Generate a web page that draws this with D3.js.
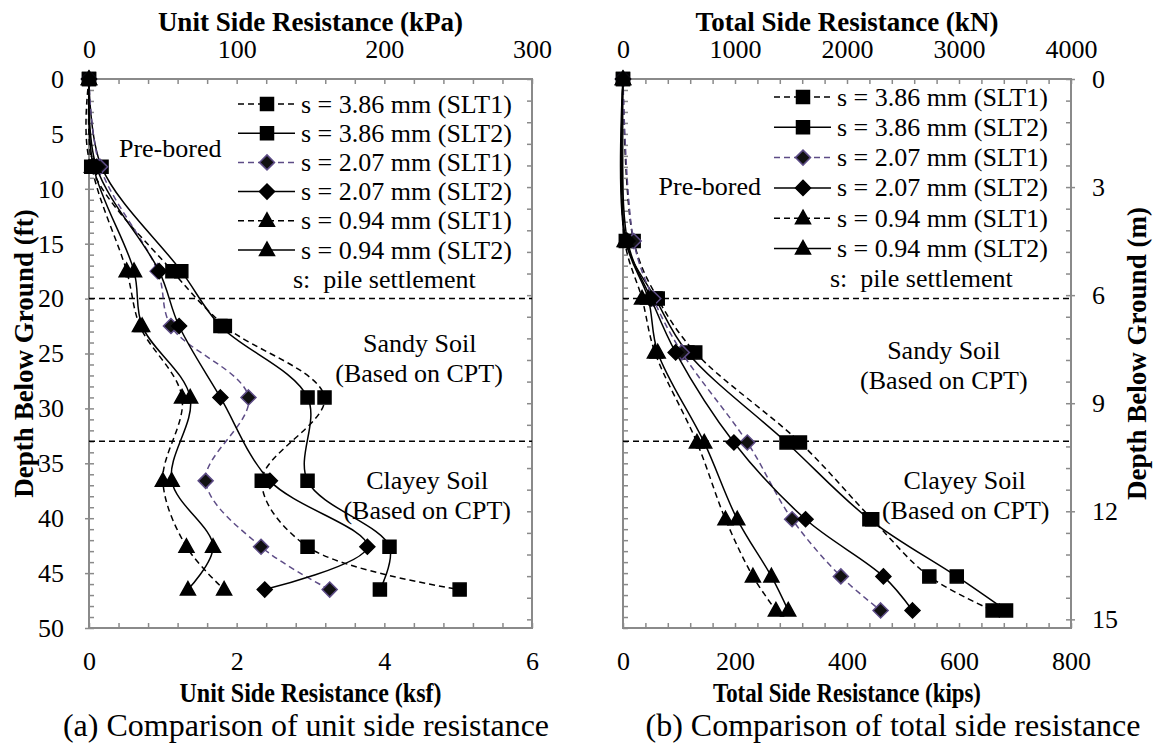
<!DOCTYPE html>
<html>
<head>
<meta charset="utf-8">
<script src="https://cdn.jsdelivr.net/npm/d3@7"></script>
<style>
  text { font-family: "Liberation Serif" !important; }
</style>
</head>
<body style="margin:0; background:#fff">
<svg id="chart" width="1154" height="746" font-family="Liberation Serif" style="display:block; font-family: 'Liberation Serif'"></svg>
<script>
// ---- Unit side resistance (ksf) at segment mid-depths (ft) ----
const unitDepths   = [0, 8, 17.5, 22.5, 29, 36.6, 42.6, 46.5];
const unit386SLT1  = [0, 0.03, 1.13, 1.84, 3.19, 2.34, 2.96, 5.02];
const unit386SLT2  = [0, 0.17, 1.25, 1.78, 2.96, 2.96, 4.07, 3.94];
const unit207SLT1  = [0, 0.15, 0.93, 1.11, 2.16, 1.58, 2.33, 3.26];
const unit207SLT2  = [0, 0.10, 0.95, 1.22, 1.78, 2.45, 3.77, 2.38];
const unit094SLT1  = [0, 0.04, 0.51, 0.69, 1.26, 1.00, 1.32, 1.83];
const unit094SLT2  = [0, 0.06, 0.61, 0.72, 1.37, 1.12, 1.68, 1.34];

// ---- Total side resistance (kips) at segment bottoms (ft) ----
const totalDepths  = [0, 14.75, 20, 24.9, 33.1, 40.1, 45.3, 48.4];
const total386SLT1 = [0, 19, 62, 129, 316, 445, 547, 660];
const total386SLT2 = [0, 5, 58, 115, 292, 440, 596, 684];
const total207SLT1 = [0, 19, 54, 105, 222, 302, 389, 460];
const total207SLT2 = [0, 8, 50, 94, 198, 326, 465, 517];
const total094SLT1 = [0, 3, 34, 57, 132, 183, 232, 273];
const total094SLT2 = [0, 5, 45, 62, 145, 204, 265, 295];

// ---- Labels ----
const seriesNames = [
  "s = 3.86 mm (SLT1)", "s = 3.86 mm (SLT2)",
  "s = 2.07 mm (SLT1)", "s = 2.07 mm (SLT2)",
  "s = 0.94 mm (SLT1)", "s = 0.94 mm (SLT2)"
];
const ksfTicks  = [0, 2, 4, 6];
const kpaTicks  = [0, 100, 200, 300];
const kipsTicks = [0, 200, 400, 600, 800];
const knTicks   = [0, 1000, 2000, 3000, 4000];
const ftTicks   = [0, 5, 10, 15, 20, 25, 30, 35, 40, 45, 50];
const mTicks    = [0, 3, 6, 9, 12, 15];
const layerBoundaries = [20, 33];   // ft

// ---- Series appearance ----
const PURPLE = "#5d4c86";
const seriesStyle = [
  { marker: "square",   dashed: true,  stroke: "#000", fill: "#000", mstroke: "#000" },
  { marker: "square",   dashed: false, stroke: "#000", fill: "#000", mstroke: "#000" },
  { marker: "diamond",  dashed: true,  stroke: PURPLE, fill: "#111", mstroke: PURPLE },
  { marker: "diamond",  dashed: false, stroke: "#000", fill: "#000", mstroke: "#000" },
  { marker: "triangle", dashed: true,  stroke: "#000", fill: "#000", mstroke: "#000" },
  { marker: "triangle", dashed: false, stroke: "#000", fill: "#000", mstroke: "#000" }
];
const markerPath = {
  square:   "M-6.5,-6.5H6.5V6.5H-6.5Z",
  diamond:  "M0,-7.5L7.5,0L0,7.5L-7.5,0Z",
  triangle: "M0,-8L7.5,5.5L-7.5,5.5Z"
};

const SERIF = "Liberation Serif";
const svg = d3.select("#chart");
const AXIS_GREY = "#8a8a8a";
const FT_TO_M = 0.3048;
const fmt = d3.format("d");

function steps(max, step) {
  const n = Math.round(max / step);
  return d3.range(n + 1).map(i => +(i * step).toFixed(6));
}

function styleAxis(g) {
  g.attr("font-family", SERIF).attr("font-size", 26);
  g.select(".domain").remove();
  g.selectAll(".tick line").attr("stroke", AXIS_GREY).attr("stroke-width", 1.5);
  g.selectAll("text").attr("fill", "#000")
    .attr("font-family", SERIF).style("font-family", `"${SERIF}"`).style("font-size", "26px");
}

// text helper: serif face applied both as attribute and inline style
function label(parent, size, bold) {
  const t = parent.append("text")
    .attr("font-family", SERIF).attr("font-size", size)
    .style("font-family", `"${SERIF}"`).style("font-size", size + "px");
  if (bold) t.attr("font-weight", "bold").style("font-weight", "bold");
  return t;
}

function drawPanel(cfg) {
  const x = d3.scaleLinear().domain([0, cfg.xMax]).range([cfg.left, cfg.right]);
  const xTop = d3.scaleLinear().domain([0, cfg.xTopMax]).range([cfg.left, cfg.right]);
  const y = d3.scaleLinear().domain([0, 50]).range([79, 628]);
  const yM = d3.scaleLinear().domain([0, 50 * FT_TO_M]).range([79, 628]);
  const top = y(0), bottom = y(50);
  const g = svg.append("g");

  // minor ticks (inside)
  g.append("g").attr("transform", `translate(0,${bottom})`)
    .call(d3.axisBottom(x).tickValues(steps(cfg.xMax, cfg.xStep)).tickSize(-5).tickFormat(""))
    .call(styleAxis);
  g.append("g").attr("transform", `translate(0,${top})`)
    .call(d3.axisTop(xTop).tickValues(steps(cfg.xTopMax, cfg.xTopStep)).tickSize(-5).tickFormat(""))
    .call(styleAxis);
  g.append("g").attr("transform", `translate(${cfg.left},0)`)
    .call(d3.axisLeft(y).tickValues(d3.range(0, 51)).tickSize(-5).tickFormat(""))
    .call(styleAxis);
  g.append("g").attr("transform", `translate(${cfg.right},0)`)
    .call(d3.axisRight(yM).tickValues(steps(15.2, 0.6)).tickSize(-5).tickFormat(""))
    .call(styleAxis);

  // labelled axes
  g.append("g").attr("transform", `translate(0,${bottom})`)
    .call(d3.axisBottom(x).tickValues(cfg.xTicks).tickSize(0).tickPadding(24).tickFormat(fmt))
    .call(styleAxis);
  g.append("g").attr("transform", `translate(0,${top})`)
    .call(d3.axisTop(xTop).tickValues(cfg.xTopTicks).tickSize(0).tickPadding(21).tickFormat(fmt))
    .call(styleAxis);
  if (cfg.leftLabels) {
    g.append("g").attr("transform", `translate(${cfg.left},0)`)
      .call(d3.axisLeft(y).tickValues(ftTicks).tickSize(4).tickPadding(21).tickFormat(fmt))
      .call(styleAxis);
  }
  if (cfg.rightLabels) {
    g.append("g").attr("transform", `translate(${cfg.right},0)`)
      .call(d3.axisRight(yM).tickValues(mTicks).tickSize(4).tickPadding(17).tickFormat(fmt))
      .call(styleAxis);
  }

  // frame
  g.append("rect")
    .attr("x", cfg.left).attr("y", top)
    .attr("width", cfg.right - cfg.left).attr("height", bottom - top)
    .attr("fill", "none").attr("stroke", AXIS_GREY).attr("stroke-width", 2);

  // soil layer boundaries
  g.selectAll(".layer").data(layerBoundaries).join("line")
    .attr("x1", cfg.left).attr("x2", cfg.right)
    .attr("y1", d => y(d)).attr("y2", d => y(d))
    .attr("stroke", "#000").attr("stroke-width", 1.5).attr("stroke-dasharray", "6,4");

  // axis titles and caption
  const cx = (cfg.left + cfg.right) / 2;
  label(g, 27, true).attr("x", cx).attr("y", 31).attr("text-anchor", "middle").text(cfg.topTitle);
  label(g, 27, true).attr("x", cx).attr("y", 702).attr("text-anchor", "middle")
    .attr("textLength", cfg.bottomTitleWidth).attr("lengthAdjust", "spacingAndGlyphs")
    .text(cfg.bottomTitle);
  label(g, 32, false).attr("x", cfg.captionX).attr("y", 736).attr("text-anchor", "middle").text(cfg.caption);
  label(g, 27, true)
    .attr("transform", `translate(${cfg.yTitleX},${(top + bottom) / 2}) rotate(-90)`)
    .attr("text-anchor", "middle").text(cfg.yTitle);

  // soil annotations
  cfg.notes.forEach(n => {
    label(g, 26, false).attr("x", x(n.x)).attr("y", y(n.d))
      .attr("text-anchor", "middle").text(n.t);
  });

  // data series
  const line = d3.line().x(d => x(d[0])).y(d => y(d[1])).curve(d3.curveCatmullRom);
  cfg.series.forEach((vals, i) => {
    const st = seriesStyle[i];
    const pts = vals.map((v, j) => [v, cfg.depths[j]]);
    g.append("path").datum(pts).attr("d", line)
      .attr("fill", "none").attr("stroke", st.stroke).attr("stroke-width", 1.5)
      .attr("stroke-dasharray", st.dashed ? "6,4" : null);
    g.selectAll(null).data(pts).join("path")
      .attr("transform", d => `translate(${x(d[0])},${y(d[1])})`)
      .attr("d", markerPath[st.marker])
      .attr("fill", st.fill).attr("stroke", st.mstroke).attr("stroke-width", 1.5);
  });

  // legend
  const lg = g.append("g");
  seriesNames.forEach((name, i) => {
    const st = seriesStyle[i];
    const ly = cfg.legendTop + i * cfg.legendStep;
    lg.append("line").attr("x1", cfg.legendX).attr("x2", cfg.legendX + 57)
      .attr("y1", ly).attr("y2", ly)
      .attr("stroke", st.stroke).attr("stroke-width", 1.5)
      .attr("stroke-dasharray", st.dashed ? "6,4" : null);
    lg.append("path").attr("transform", `translate(${cfg.legendX + 29},${ly})`)
      .attr("d", markerPath[st.marker])
      .attr("fill", st.fill).attr("stroke", st.mstroke).attr("stroke-width", 1.5);
    label(lg, 26, false).attr("x", cfg.legendX + 63).attr("y", ly + 8.5).text(name);
  });
  label(lg, 26, false).attr("x", cfg.settleX)
    .attr("y", cfg.legendTop + 6 * cfg.legendStep + 8.5)
    .attr("xml:space", "preserve").style("white-space", "pre")
    .text("s:  pile settlement");
}

drawPanel({
  left: 89, right: 532,
  xMax: 6, xStep: 0.4, xTicks: ksfTicks,
  xTopMax: 300, xTopStep: 20, xTopTicks: kpaTicks,
  leftLabels: true, rightLabels: false,
  topTitle: "Unit Side Resistance (kPa)",
  bottomTitle: "Unit Side Resistance (ksf)", bottomTitleWidth: 262,
  caption: "(a) Comparison of unit side resistance", captionX: 306,
  yTitle: "Depth Below Ground (ft)", yTitleX: 33,
  depths: unitDepths,
  series: [unit386SLT1, unit386SLT2, unit207SLT1, unit207SLT2, unit094SLT1, unit094SLT2],
  notes: [
    { t: "Pre-bored", x: 1.10, d: 7.1 },
    { t: "Sandy Soil", x: 4.48, d: 24.9 },
    { t: "(Based on CPT)", x: 4.47, d: 27.6 },
    { t: "Clayey Soil", x: 4.58, d: 37.3 },
    { t: "(Based on CPT)", x: 4.58, d: 40.1 }
  ],
  legendX: 238, legendTop: 104, legendStep: 29.2, settleX: 293
});

drawPanel({
  left: 623, right: 1071,
  xMax: 800, xStep: 40, xTicks: kipsTicks,
  xTopMax: 4000, xTopStep: 200, xTopTicks: knTicks,
  leftLabels: false, rightLabels: true,
  topTitle: "Total Side Resistance (kN)",
  bottomTitle: "Total Side Resistance (kips)", bottomTitleWidth: 268,
  caption: "(b) Comparison of total side resistance", captionX: 893,
  yTitle: "Depth Below Ground (m)", yTitleX: 1146,
  depths: totalDepths,
  series: [total386SLT1, total386SLT2, total207SLT1, total207SLT2, total094SLT1, total094SLT2],
  notes: [
    { t: "Pre-bored", x: 155, d: 10.6 },
    { t: "Sandy Soil", x: 573, d: 25.5 },
    { t: "(Based on CPT)", x: 573, d: 28.2 },
    { t: "Clayey Soil", x: 610, d: 37.3 },
    { t: "(Based on CPT)", x: 612, d: 40.1 }
  ],
  legendX: 774, legendTop: 97, legendStep: 30.3, settleX: 830
});
</script>
</body>
</html>
